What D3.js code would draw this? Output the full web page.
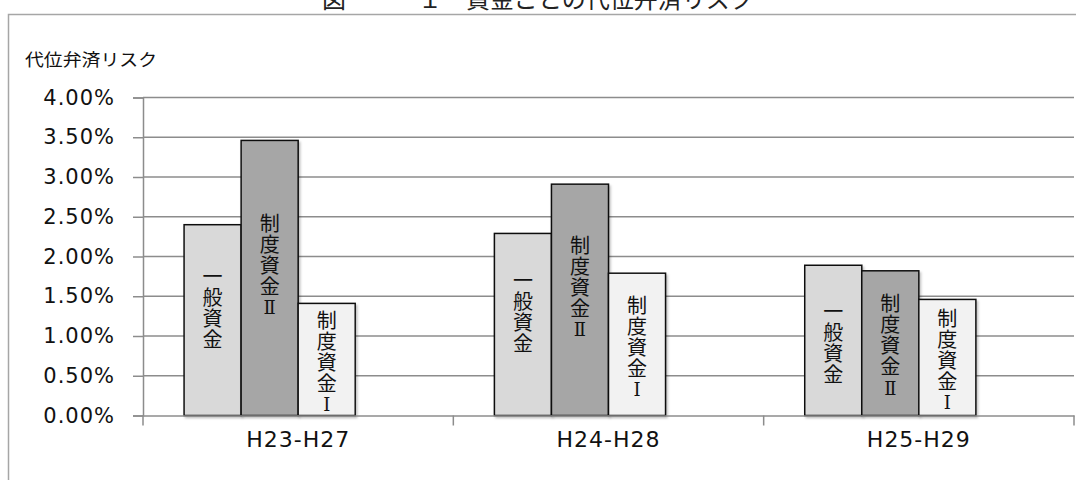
<!DOCTYPE html>
<html>
<head>
<meta charset="utf-8">
<script src="https://cdn.jsdelivr.net/npm/d3@7"></script>
<style>
  body { margin: 0; background: #fff; }
  svg { display: block; }
</style>
</head>
<body>
<div id="app"></div>
<script>
// data
const categories = ['H23-H27', 'H24-H28', 'H25-H29'];
const seriesNames = ['一般資金', '制度資金Ⅱ', '制度資金Ⅰ'];
const ippan = [2.40, 2.29, 1.89];
const seidoII = [3.46, 2.91, 1.82];
const seidoI = [1.41, 1.79, 1.46];
const yTicks = [0, 0.5, 1, 1.5, 2, 2.5, 3, 3.5, 4];

const seriesValues = [ippan, seidoII, seidoI];
const colors = ['#d9d9d9', '#a6a6a6', '#f2f2f2'];

const width = 1076;
const height = 480;

const svg = d3.select('#app').append('svg')
  .attr('width', width)
  .attr('height', height);

svg.append('defs').html(`
  <filter id="shadow" x="-20%" y="-20%" width="140%" height="140%">
    <feDropShadow dx="1.5" dy="2" stdDeviation="1" flood-color="#000" flood-opacity="0.25"/>
  </filter>`);

// outer frame (continues past the picture edge)
svg.append('rect')
  .attr('x', 8.5).attr('y', 14.5)
  .attr('width', 1100).attr('height', 500)
  .attr('fill', 'none')
  .attr('stroke', '#a6a6a6')
  .attr('stroke-width', 1.5);

// title, mostly cut off at top
svg.append('text')
  .attr('x', 322).attr('y', 8)
  .attr('font-family', '"Noto Sans CJK JP"')
  .attr('font-size', 24)
  .attr('fill', '#222')
  .text('図　　　１　資金ごとの代位弁済リスク');

// y axis title
svg.append('text')
  .attr('x', 25).attr('y', 66)
  .attr('font-family', '"Noto Sans CJK JP"')
  .attr('font-size', 17)
  .attr('textLength', 132)
  .attr('lengthAdjust', 'spacingAndGlyphs')
  .attr('fill', '#111')
  .text('代位弁済リスク');

const plotLeft = 143, plotRight = 1074, plotTop = 97.5, plotBottom = 415.5;

const y = d3.scaleLinear().domain([0, 4]).range([plotBottom, plotTop]);
const x = d3.scaleBand().domain(categories).range([plotLeft, plotRight]).padding(0);
// 4 slots per group: the last one is an empty series in the original chart
const xInner = d3.scaleBand().domain([0, 1, 2, 3])
  .range([0, x.bandwidth()]).paddingInner(0).paddingOuter(0.72);

// gridlines
svg.append('g')
  .selectAll('line')
  .data(yTicks.slice(1))
  .join('line')
  .attr('x1', plotLeft).attr('x2', plotRight)
  .attr('y1', (d) => y(d)).attr('y2', (d) => y(d))
  .attr('stroke', '#8c8c8c')
  .attr('stroke-width', 1.5);

// y axis
const axisY = d3.axisLeft(y).tickValues(yTicks).tickSize(10).tickPadding(18)
  .tickFormat((d) => d.toFixed(2) + '%');
const axisYG = svg.append('g').attr('transform', `translate(${plotLeft},0)`).call(axisY);
axisYG.select('.domain').attr('stroke', '#8c8c8c').attr('stroke-width', 1.5);
axisYG.selectAll('.tick line').attr('stroke', '#8c8c8c').attr('stroke-width', 1.5);
axisYG.selectAll('text')
  .attr('font-family', '"DejaVu Sans", Verdana, sans-serif')
  .attr('font-size', 21)
  .attr('letter-spacing', 1)
  .attr('fill', '#111');

// bars
const bars = [];
categories.forEach((c, ci) => {
  seriesValues.forEach((vals, si) => {
    bars.push({ cat: c, s: si, value: vals[ci] });
  });
});

const barG = svg.append('g');
barG.selectAll('rect')
  .data(bars)
  .join('rect')
  .attr('x', (d) => x(d.cat) + xInner(d.s))
  .attr('y', (d) => y(d.value))
  .attr('width', xInner.bandwidth())
  .attr('height', (d) => y(0) - y(d.value))
  .attr('fill', (d) => colors[d.s])
  .attr('stroke', '#111')
  .attr('stroke-width', 1.5)
  .attr('filter', 'url(#shadow)');

// x axis
const axisX = d3.axisBottom(x).tickSize(0).tickPadding(16);
const axisXG = svg.append('g').attr('transform', `translate(0,${plotBottom})`).call(axisX);
axisXG.select('.domain').attr('stroke', '#8c8c8c').attr('stroke-width', 1.5);
axisXG.selectAll('text')
  .attr('font-family', '"DejaVu Sans", Verdana, sans-serif')
  .attr('font-size', 22)
  .attr('letter-spacing', 1)
  .attr('fill', '#111');
// boundary ticks between categories
axisXG.append('g')
  .selectAll('line')
  .data(categories.map((c) => x(c)).concat([plotRight]))
  .join('line')
  .attr('x1', (d) => d).attr('x2', (d) => d)
  .attr('y1', 0).attr('y2', 10)
  .attr('stroke', '#8c8c8c')
  .attr('stroke-width', 1.5);

// vertical labels inside bars, one character per line
const step = 21;
const isRoman = (ch) => ch === 'Ⅰ' || ch === 'Ⅱ';
bars.forEach((d) => {
  const chars = Array.from(seriesNames[d.s]);
  const barTop = y(d.value);
  const barH = y(0) - barTop;
  const mid = barTop + barH / 2 + (barH > 170 ? -12 : 3);
  const startY = mid - (chars.length * step) / 2;
  const cx = x(d.cat) + xInner(d.s) + xInner.bandwidth() / 2;
  barG.append('g')
    .selectAll('text')
    .data(chars)
    .join('text')
    .attr('x', cx)
    .attr('y', (ch, i) => startY + i * step + step / 2)
    .attr('dy', '0.36em')
    .attr('text-anchor', 'middle')
    .attr('font-family', (ch) => isRoman(ch) ? '"DejaVu Serif", "Liberation Serif", serif' : '"Noto Sans CJK JP"')
    .attr('font-size', (ch) => isRoman(ch) ? 18 : 20)
    .attr('fill', '#111')
    .text((ch) => ch);
});
</script>
</body>
</html>
